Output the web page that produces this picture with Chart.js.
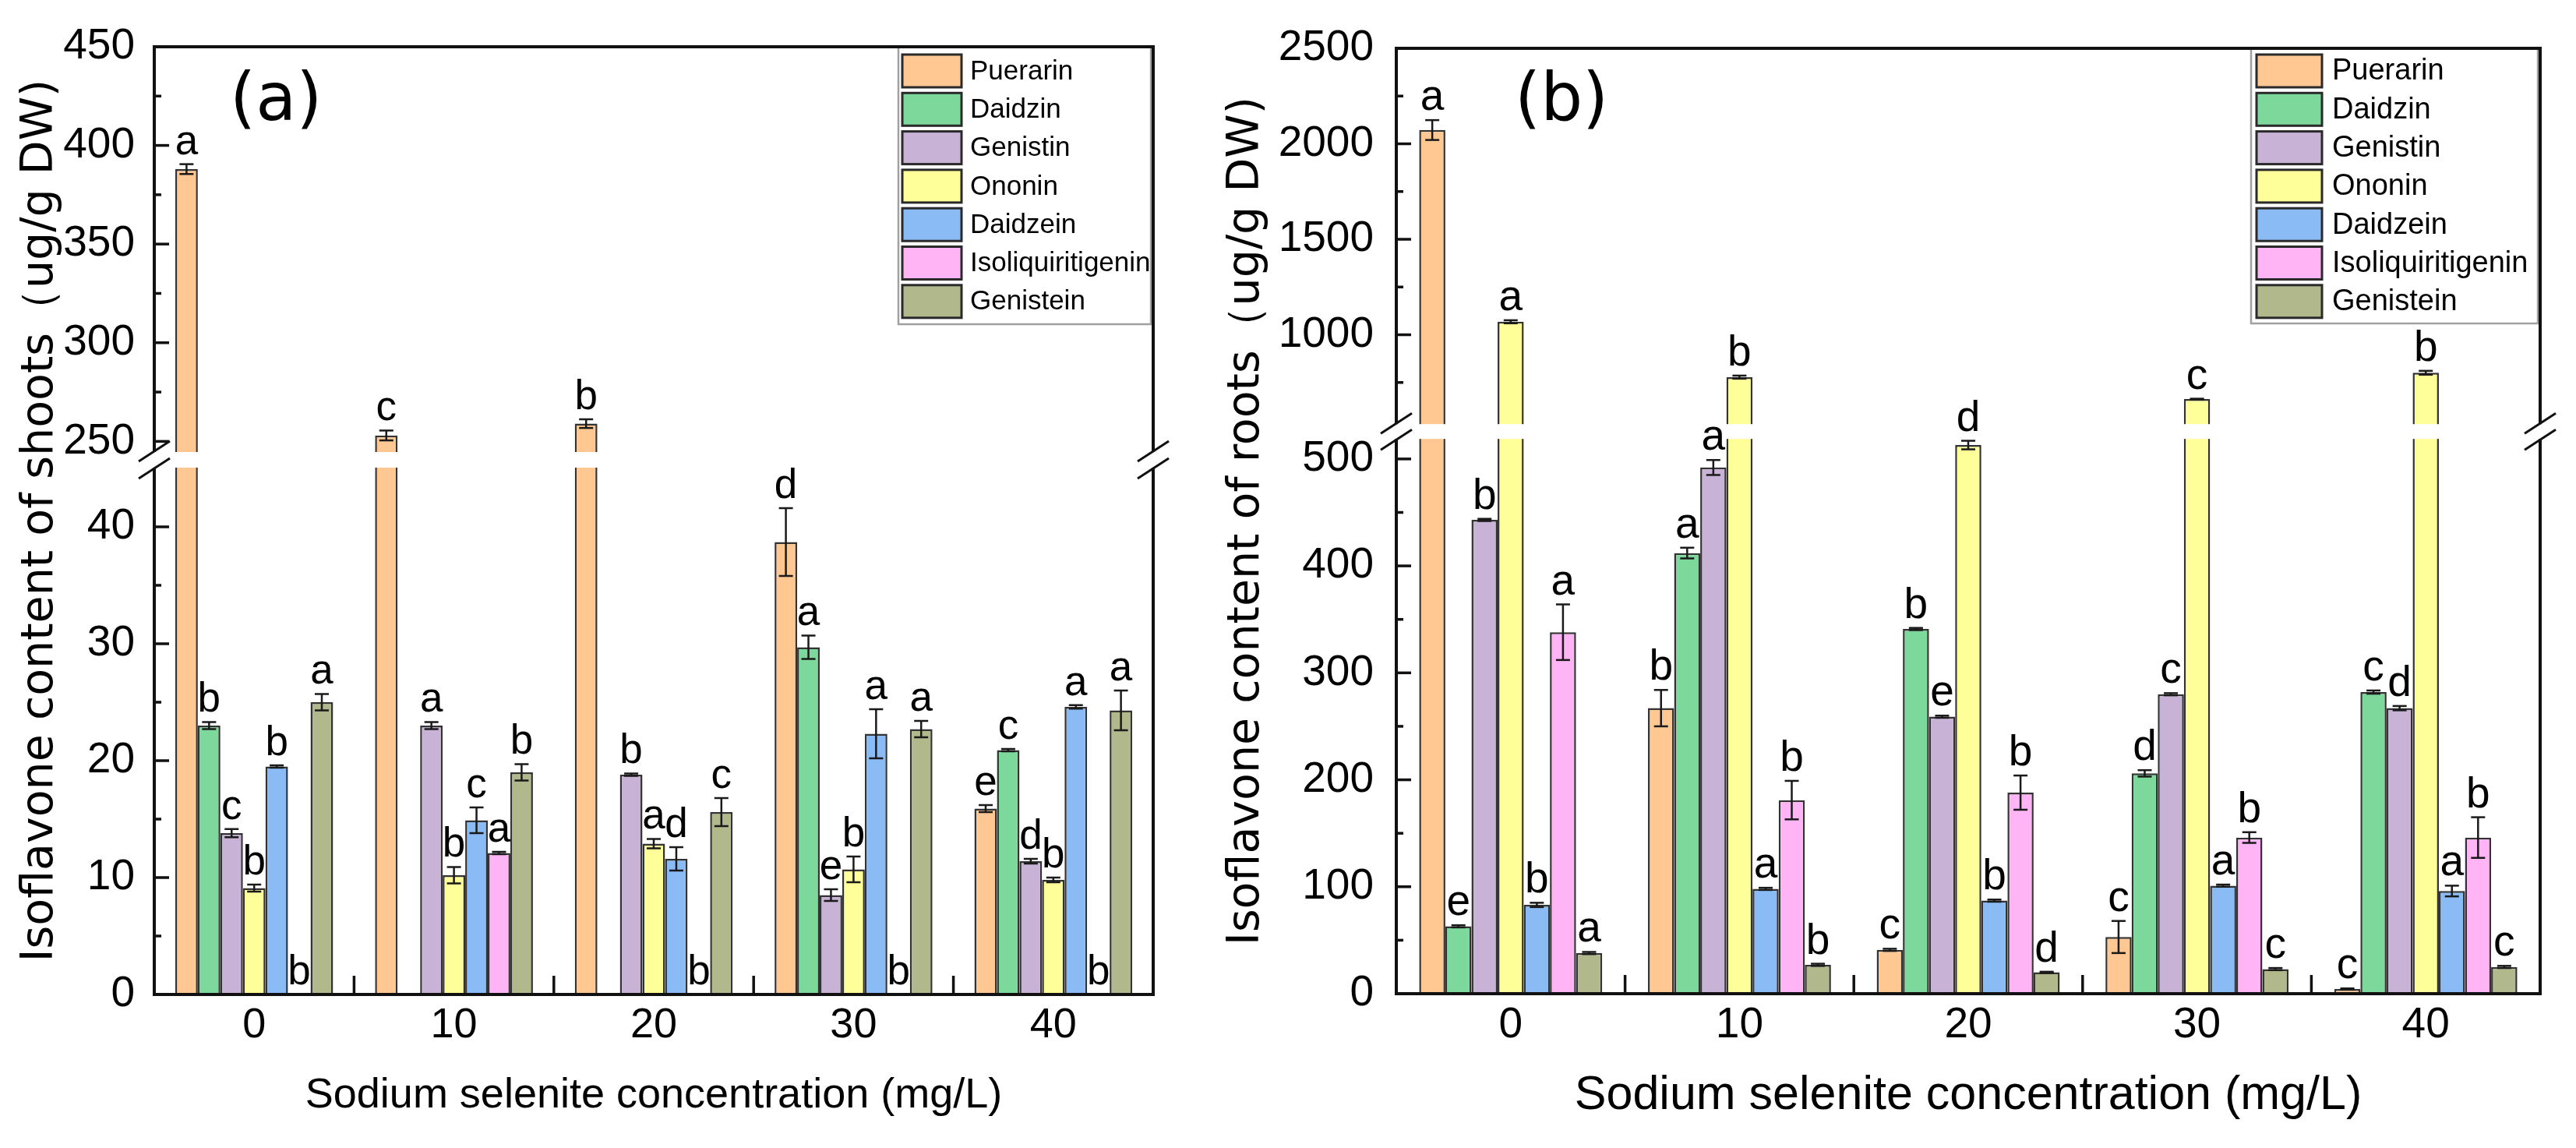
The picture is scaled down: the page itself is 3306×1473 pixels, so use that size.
<!DOCTYPE html>
<html><head><meta charset="utf-8">
<title>Isoflavone content of shoots and roots</title>
<script src="https://cdn.jsdelivr.net/npm/chart.js@4"></script>
<style>
  body { margin: 0; background: #fff; width: 3306px; height: 1473px; overflow: hidden; }
  canvas { position: absolute; top: 0; }
  #shoots { left: 0; }
  #roots { left: 1540px; }
</style>
</head>
<body>
<canvas id="shoots" width="1540" height="1473"></canvas>
<canvas id="roots" width="1766" height="1473"></canvas>

<script>
// categories and series
const concentrations = ['0', '10', '20', '30', '40'];
const compounds = ['Puerarin', 'Daidzin', 'Genistin', 'Ononin', 'Daidzein', 'Isoliquiritigenin', 'Genistein'];
const compoundColors = ['#FFC892', '#7DD99B', '#C8B2D6', '#FFFF99', '#8ABBF5', '#FFB4F5', '#B1B98C'];

// (a) shoots, ug/g DW
const shootPuerarin = [388, 253, 259, 38.7, 15.9];
const shootDaidzin = [23.0, null, null, 29.7, 20.9];
const shootGenistin = [13.8, 23.0, 18.8, 8.5, 11.4];
const shootOnonin = [9.1, 10.2, 12.9, 10.7, 9.8];
const shootDaidzein = [19.5, 14.9, 11.6, 22.3, 24.6];
const shootIsoliquiritigenin = [0, 12.1, 0, 0, 0];
const shootGenistein = [25.0, 19.0, 15.6, 22.7, 24.3];

const shootErrPuerarin = [2.5, 2.5, 2.2, 2.9, 0.3];
const shootErrDaidzin = [0.3, null, null, 1.0, 0.1];
const shootErrGenistin = [0.35, 0.3, 0.1, 0.5, 0.2];
const shootErrOnonin = [0.3, 0.7, 0.4, 1.1, 0.2];
const shootErrDaidzein = [0.1, 1.1, 1.0, 2.1, 0.15];
const shootErrIsoliquiritigenin = [0, 0.1, 0, 0, 0];
const shootErrGenistein = [0.7, 0.7, 1.2, 0.7, 1.7];

const shootSigPuerarin = ['a', 'c', 'b', 'd', 'e'];
const shootSigDaidzin = ['b', '', '', 'a', 'c'];
const shootSigGenistin = ['c', 'a', 'b', 'e', 'd'];
const shootSigOnonin = ['b', 'b', 'a', 'b', 'b'];
const shootSigDaidzein = ['b', 'c', 'd', 'a', 'a'];
const shootSigIsoliquiritigenin = ['b', 'a', 'b', 'b', 'b'];
const shootSigGenistein = ['a', 'b', 'c', 'a', 'a'];

// (b) roots, ug/g DW
const rootPuerarin = [2072, 267, 41, 53, 4.4];
const rootDaidzin = [63, 412, 341, 206, 282];
const rootGenistin = [443, 492, 259, 280, 267];
const rootOnonin = [1068, 778, 513, 663, 801];
const rootDaidzein = [83, 98, 87, 101, 96];
const rootIsoliquiritigenin = [338, 181, 188, 146, 146];
const rootGenistein = [38, 27, 20, 23, 25];

const rootErrPuerarin = [52, 17, 1, 15, 0.5];
const rootErrDaidzin = [1, 5, 1, 3, 1.5];
const rootErrGenistin = [1, 7, 1, 1, 2];
const rootErrOnonin = [8, 8, 4, 2, 10];
const rootErrDaidzein = [2, 1, 1, 1, 5];
const rootErrIsoliquiritigenin = [26, 18, 16, 5, 19];
const rootErrGenistein = [1, 1, 0.5, 1, 1];

const rootSigPuerarin = ['a', 'b', 'c', 'c', 'c'];
const rootSigDaidzin = ['e', 'a', 'b', 'd', 'c'];
const rootSigGenistin = ['b', 'a', 'e', 'c', 'd'];
const rootSigOnonin = ['a', 'b', 'd', 'c', 'b'];
const rootSigDaidzein = ['b', 'a', 'b', 'a', 'a'];
const rootSigIsoliquiritigenin = ['a', 'b', 'b', 'b', 'b'];
const rootSigGenistein = ['a', 'b', 'd', 'c', 'c'];

// tick labels
const shootTicks = [0, 10, 20, 30, 40, 250, 300, 350, 400, 450];
const shootMinorTicks = [5, 15, 25, 35, 275, 325, 375, 425];
const rootTicks = [0, 100, 200, 300, 400, 500, 1000, 1500, 2000, 2500];
const rootMinorTicks = [50, 150, 250, 350, 450, 750, 1250, 1750, 2250];

// linear axis with one break: low part [min, lowMax], high part [highMin, max]
class BrokenLinearScale extends Chart.LinearScale {
  static id = 'brokenLinear';
  static defaults = Chart.LinearScale.defaults;

  buildTicks() {
    return this.options.majorValues.map(v => ({ value: v }));
  }
  getPixelForValue(value) {
    const b = this.options.brk;
    const h = this.bottom - this.top;
    const lowH = h * b.lowFrac, gapH = h * b.gapFrac, highH = h - lowH - gapH;
    if (value <= b.lowMax) return this.bottom - (value - this.min) / (b.lowMax - this.min) * lowH;
    if (value >= b.highMin) return this.top + (this.max - value) / (this.max - b.highMin) * highH;
    return this.bottom - lowH - gapH / 2;
  }
  getValueForPixel(pixel) {
    const b = this.options.brk;
    const h = this.bottom - this.top;
    const lowH = h * b.lowFrac, gapH = h * b.gapFrac, highH = h - lowH - gapH;
    if (pixel >= this.bottom - lowH) return this.min + (this.bottom - pixel) / lowH * (b.lowMax - this.min);
    if (pixel <= this.top + highH) return this.max - (pixel - this.top) / highH * (this.max - b.highMin);
    return b.lowMax;
  }
}
Chart.register(BrokenLinearScale);

function line(ctx, x1, y1, x2, y2) {
  ctx.beginPath();
  ctx.moveTo(x1, y1);
  ctx.lineTo(x2, y2);
  ctx.stroke();
}

const decorPlugin = {
  id: 'decor',
  afterDatasetsDraw(chart) {
    const ctx = chart.ctx, y = chart.scales.y, d = chart.options.plugins.decor;
    ctx.save();
    ctx.strokeStyle = '#1a1a1a';
    ctx.lineWidth = 2.5;
    chart.data.datasets.forEach((ds, di) => {
      chart.getDatasetMeta(di).data.forEach((bar, i) => {
        const v = ds.data[i], e = ds.errors[i];
        if (v == null || !e) return;
        const yt = y.getPixelForValue(v + e), yb = y.getPixelForValue(Math.max(v - e, 0));
        line(ctx, bar.x, yt, bar.x, yb);
        line(ctx, bar.x - d.capHalf, yt, bar.x + d.capHalf, yt);
        line(ctx, bar.x - d.capHalf, yb, bar.x + d.capHalf, yb);
      });
    });
    ctx.restore();
  },
  afterDraw(chart) {
    const ctx = chart.ctx, a = chart.chartArea, x = chart.scales.x, y = chart.scales.y;
    const d = chart.options.plugins.decor;
    const lg = d.legend;
    ctx.save();

    // legend box
    ctx.fillStyle = '#fff';
    ctx.fillRect(lg.left, a.top, lg.right - lg.left, lg.bottom - a.top);
    ctx.strokeStyle = '#a0a0a0';
    ctx.lineWidth = 2.5;
    ctx.strokeRect(lg.left, a.top, lg.right - lg.left, lg.bottom - a.top);
    ctx.font = lg.font;
    ctx.textAlign = 'left';
    ctx.textBaseline = 'middle';
    chart.data.datasets.forEach((ds, i) => {
      const top = lg.firstTop + i * lg.pitch;
      ctx.fillStyle = ds.backgroundColor;
      ctx.fillRect(lg.swatchX, top, lg.swatchW, lg.swatchH);
      ctx.strokeStyle = '#2a2a2a';
      ctx.lineWidth = 3;
      ctx.strokeRect(lg.swatchX, top, lg.swatchW, lg.swatchH);
      ctx.fillStyle = '#000';
      ctx.fillText(ds.label, lg.textX, top + lg.swatchH / 2 + 1);
    });

    // frame
    ctx.strokeStyle = '#111';
    ctx.lineWidth = 4;
    ctx.strokeRect(a.left, a.top, a.right - a.left, a.bottom - a.top);

    // inward ticks
    ctx.lineWidth = 3.5;
    y.ticks.forEach(t => {
      const p = y.getPixelForValue(t.value);
      line(ctx, a.left, p, a.left + d.majorLen, p);
    });
    y.options.minorValues.forEach(v => {
      const p = y.getPixelForValue(v);
      line(ctx, a.left, p, a.left + d.minorLen, p);
    });
    for (let i = 1; i < x.ticks.length; i++) {
      const px = (x.getPixelForTick(i - 1) + x.getPixelForTick(i)) / 2;
      line(ctx, px, a.bottom, px, a.bottom - d.sepLen);
    }

    // axis break
    const b = y.options.brk;
    const yHi = y.getPixelForValue(b.highMin), yLo = y.getPixelForValue(b.lowMax);
    ctx.fillStyle = '#fff';
    ctx.fillRect(a.left - 6, yHi + 1, a.right - a.left + 12, yLo - yHi - 2);
    ctx.lineWidth = 3;
    [a.left, a.right].forEach(ax => {
      [yHi, yLo].forEach(py => line(ctx, ax - 20, py + 13, ax + 20, py - 13));
    });

    // significance letters
    ctx.fillStyle = '#000';
    ctx.font = d.letterFont;
    ctx.textAlign = 'center';
    ctx.textBaseline = 'alphabetic';
    chart.data.datasets.forEach((ds, di) => {
      chart.getDatasetMeta(di).data.forEach((bar, i) => {
        const v = ds.data[i], s = ds.letters[i];
        if (v == null || !s) return;
        ctx.fillText(s, bar.x, y.getPixelForValue(v + (ds.errors[i] || 0)) - d.letterGap);
      });
    });

    // panel label
    ctx.font = d.panel.font;
    ctx.textAlign = 'left';
    ctx.textBaseline = 'middle';
    ctx.fillText(d.panel.text, d.panel.x, d.panel.y);
    ctx.restore();
  }
};

function makeChart(id, cfg) {
  return new Chart(document.getElementById(id), {
    type: 'bar',
    data: {
      labels: concentrations,
      datasets: compounds.map((name, i) => ({
        label: name,
        data: cfg.values[i],
        errors: cfg.errors[i],
        letters: cfg.letters[i],
        backgroundColor: compoundColors[i],
        borderColor: '#333',
        borderWidth: 2.5,
        categoryPercentage: cfg.catPct,
        barPercentage: 1
      }))
    },
    options: {
      responsive: false,
      animation: false,
      devicePixelRatio: 1,
      layout: { padding: { top: 60, right: cfg.padRight, left: 0, bottom: 0 } },
      plugins: {
        legend: { display: false },
        tooltip: { enabled: false },
        decor: cfg.decor
      },
      scales: {
        x: {
          type: 'category',
          offset: true,
          grid: { display: false, drawTicks: false },
          border: { display: false },
          ticks: { color: '#000', font: { family: 'Arial, "Liberation Sans"', size: cfg.xTickSize }, padding: 8 },
          title: {
            display: true,
            text: 'Sodium selenite concentration (mg/L)',
            color: '#000',
            font: { family: 'Arial, "Liberation Sans"', size: cfg.xTitleSize },
            padding: { top: 0, bottom: cfg.xTitlePad }
          },
          afterFit: s => { s.height = cfg.xAxisHeight; }
        },
        y: {
          type: 'brokenLinear',
          min: cfg.min,
          max: cfg.max,
          majorValues: cfg.ticks,
          minorValues: cfg.minorTicks,
          brk: cfg.brk,
          grid: { display: false, drawTicks: false },
          border: { display: false },
          ticks: {
            autoSkip: false,
            color: '#000',
            font: { family: 'Arial, "Liberation Sans"', size: 55 },
            padding: cfg.yTickPad,
            callback: v => String(v)
          },
          title: {
            display: true,
            text: cfg.yTitle,
            color: '#000',
            font: { family: '"DejaVu Sans"', size: 57 },
            padding: { top: cfg.yTitlePad, bottom: 0 }
          },
          afterFit: s => { s.width = cfg.yAxisWidth; }
        }
      }
    },
    plugins: [decorPlugin]
  });
}

makeChart('shoots', {
  values: [shootPuerarin, shootDaidzin, shootGenistin, shootOnonin, shootDaidzein, shootIsoliquiritigenin, shootGenistein],
  errors: [shootErrPuerarin, shootErrDaidzin, shootErrGenistin, shootErrOnonin, shootErrDaidzein, shootErrIsoliquiritigenin, shootErrGenistein],
  letters: [shootSigPuerarin, shootSigDaidzin, shootSigGenistin, shootSigOnonin, shootSigDaidzein, shootSigIsoliquiritigenin, shootSigGenistein],
  ticks: shootTicks,
  minorTicks: shootMinorTicks,
  min: 0, max: 450,
  brk: { lowMax: 45, highMin: 245, lowFrac: 0.5551, gapFrac: 0.0181 },
  catPct: 0.79,
  padRight: 60,
  yAxisWidth: 198,
  xAxisHeight: 197,
  yTickPad: 25,
  yTitle: 'Isoflavone content of shoots（ug/g DW)',
  yTitlePad: 18,
  xTickSize: 54,
  xTitleSize: 54,
  xTitlePad: 34,
  decor: {
    majorLen: 19, minorLen: 9, sepLen: 24, capHalf: 9,
    letterFont: '53px Arial, "Liberation Sans"', letterGap: 13,
    legend: { left: 1153, right: 1477, bottom: 416, swatchX: 1158, swatchW: 76, swatchH: 42, firstTop: 70, pitch: 49.3, textX: 1245, font: '35px Arial, "Liberation Sans"' },
    panel: { text: '(a)', x: 295, y: 132, font: '85px "DejaVu Sans"' }
  }
});

makeChart('roots', {
  values: [rootPuerarin, rootDaidzin, rootGenistin, rootOnonin, rootDaidzein, rootIsoliquiritigenin, rootGenistein],
  errors: [rootErrPuerarin, rootErrDaidzin, rootErrGenistin, rootErrOnonin, rootErrDaidzein, rootErrIsoliquiritigenin, rootErrGenistein],
  letters: [rootSigPuerarin, rootSigDaidzin, rootSigGenistin, rootSigOnonin, rootSigDaidzein, rootSigIsoliquiritigenin, rootSigGenistein],
  ticks: rootTicks,
  minorTicks: rootMinorTicks,
  min: 0, max: 2500,
  brk: { lowMax: 518, highMin: 536, lowFrac: 0.586, gapFrac: 0.0173 },
  catPct: 0.80,
  padRight: 46,
  yAxisWidth: 252,
  xAxisHeight: 198,
  yTickPad: 29,
  yTitle: 'Isoflavone content of roots（ug/g DW)',
  yTitlePad: 26,
  xTickSize: 55,
  xTitleSize: 61,
  xTitlePad: 30,
  decor: {
    majorLen: 19, minorLen: 9, sepLen: 24, capHalf: 9,
    letterFont: '55px Arial, "Liberation Sans"', letterGap: 13,
    legend: { left: 1349, right: 1717, bottom: 415, swatchX: 1356, swatchW: 84, swatchH: 42, firstTop: 70, pitch: 49.3, textX: 1453, font: '38px Arial, "Liberation Sans"' },
    panel: { text: '(b)', x: 404, y: 132, font: '85px "DejaVu Sans"' }
  }
});
</script>
</body></html>
